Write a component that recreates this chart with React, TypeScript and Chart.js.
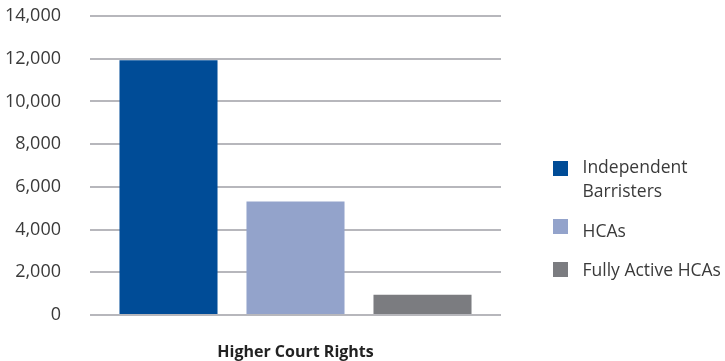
import React, { useEffect, useRef } from "react";
import { Chart, registerables } from "chart.js";

Chart.register(...registerables);

// Chart data
const categories = ["Higher Court Rights"];
const seriesNames = ["Independent Barristers", "HCAs", "Fully Active HCAs"];
const independentBarristers = [11930];
const hcas = [5310];
const fullyActiveHcas = [950];
const yTickValues = [0, 2000, 4000, 6000, 8000, 10000, 12000, 14000];

const seriesColors = ["#004C97", "#93A3CB", "#7B7C80"];
const FONT = "'Open Sans', 'Noto Sans', sans-serif";
const TEXT = "#3a3a3a";

// Legend on the right, drawn on the canvas with wrapped labels
const sideLegend = {
  id: "sideLegend",
  afterDraw(chart: any) {
    const ctx = chart.ctx as CanvasRenderingContext2D;
    const boxX = 553;
    const boxSize = 15;
    const textX = 582.5;
    const maxWidth = 725 - textX;
    const lineHeight = 24;
    const boxTops = [161, 219, 262];
    const baselines = [172.5, 236.5, 276];
    ctx.save();
    ctx.font = `17.5px ${FONT}`;
    ctx.textAlign = "left";
    ctx.textBaseline = "alphabetic";
    chart.data.datasets.forEach((ds: any, i: number) => {
      ctx.fillStyle = ds.backgroundColor;
      ctx.fillRect(boxX, boxTops[i], boxSize, boxSize);
      // wrap words into lines that fit
      const words = String(ds.label).split(" ");
      const lines: string[] = [];
      let cur = "";
      for (const w of words) {
        const test = cur ? cur + " " + w : w;
        if (cur && ctx.measureText(test).width > maxWidth) {
          lines.push(cur);
          cur = w;
        } else {
          cur = test;
        }
      }
      if (cur) lines.push(cur);
      ctx.fillStyle = TEXT;
      lines.forEach((ln, j) => {
        ctx.fillText(ln, textX, baselines[i] + j * lineHeight);
      });
    });
    ctx.restore();
  },
};

export default function App() {
  const canvasRef = useRef<HTMLCanvasElement | null>(null);

  useEffect(() => {
    if (!canvasRef.current) return;
    const values = [independentBarristers, hcas, fullyActiveHcas];
    const chart = new Chart(canvasRef.current, {
      type: "bar",
      data: {
        labels: categories,
        datasets: seriesNames.map((name, i) => ({
          label: name,
          data: values[i],
          backgroundColor: seriesColors[i],
          borderWidth: 0,
          categoryPercentage: 0.927,
          barPercentage: 0.772,
        })),
      },
      options: {
        animation: false,
        responsive: false,
        devicePixelRatio: 1,
        layout: { padding: { top: 16, right: 224, bottom: 0, left: 0 } },
        plugins: {
          legend: { display: false },
          tooltip: { enabled: false },
        },
        scales: {
          x: {
            grid: { display: false },
            border: { display: false },
            ticks: {
              padding: 20,
              color: "#222",
              font: { family: FONT, size: 16, weight: "bold" },
            },
            afterFit: (scale: any) => {
              scale.height = 46;
            },
          },
          y: {
            min: 0,
            max: 14000,
            afterBuildTicks: (scale: any) => {
              scale.ticks = yTickValues.map((v) => ({ value: v }));
            },
            grid: {
              color: "#b7b7bc",
              lineWidth: 2,
              drawTicks: true,
              tickLength: 29,
              tickColor: "rgba(0,0,0,0)",
            },
            border: { display: false },
            ticks: {
              padding: 0,
              color: TEXT,
              font: { family: FONT, size: 18 },
              callback: (v: any) => Number(v).toLocaleString("en-US"),
            },
            afterFit: (scale: any) => {
              scale.width = 90;
            },
          },
        },
      },
      plugins: [sideLegend],
    });
    return () => chart.destroy();
  }, []);

  return (
    <div style={{ position: "absolute", left: 0, top: 0, width: 725, height: 361, background: "#fff" }}>
      <canvas ref={canvasRef} width={725} height={361} style={{ display: "block", width: 725, height: 361 }} />
    </div>
  );
}
